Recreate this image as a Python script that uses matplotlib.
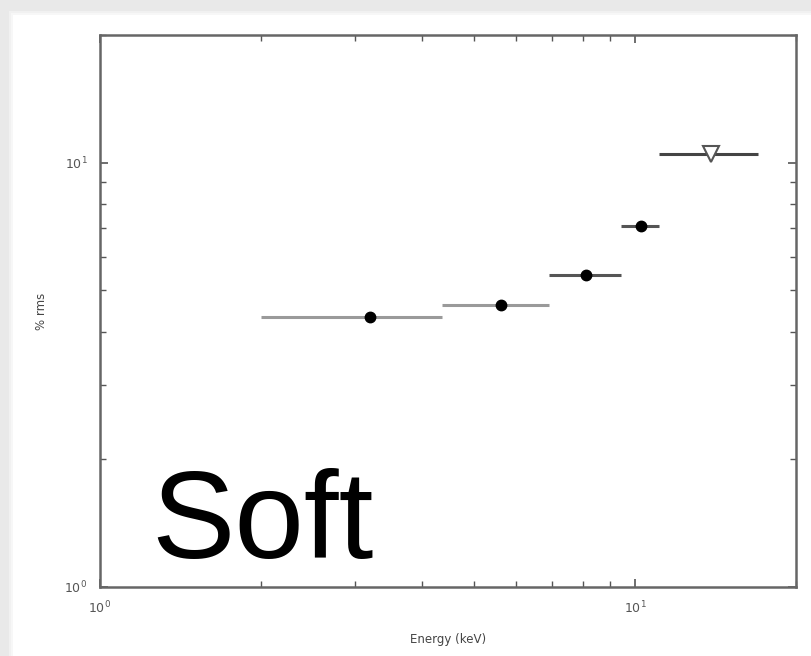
import matplotlib.pyplot as plt
from matplotlib.patches import Rectangle

# energy bins (keV) and fractional rms (%)
energy = [3.19, 5.62, 8.1, 10.26]
e_lo = [2.0, 4.35, 6.91, 9.42]
e_hi = [4.35, 6.91, 9.42, 11.09]
rms = [4.32, 4.61, 5.45, 7.11]
bar_colors = ['#9a9a9a', '#9a9a9a', '#555555', '#555555']

# upper limit in the last bin
lim_energy = [13.9]
lim_lo = [11.09]
lim_hi = [17.0]
lim_rms = [10.5]

fig = plt.figure(figsize=(8.12, 6.56), dpi=100)
fig.patch.set_facecolor('#e9e9e9')
# white page with a soft shadow on the left and top
for i, c in enumerate(['#f1f1f1', '#f7f7f7', '#ffffff']):
    fig.add_artist(Rectangle(((9 + 2 * i) / 812, 0), 1, (645 - 2 * i) / 656,
                             transform=fig.transFigure, facecolor=c,
                             edgecolor='none', zorder=0))

ax = fig.add_axes([100 / 812, 1 - 587 / 656, 696 / 812, 552 / 656])
ax.set_xscale('log')
ax.set_yscale('log')
ax.set_xlim(1, 20)
ax.set_ylim(1, 20)

for x, lo, hi, y, c in zip(energy, e_lo, e_hi, rms, bar_colors):
    ax.plot([lo, hi], [y, y], color=c, lw=2.2, solid_capstyle='butt', zorder=2)
    ax.plot(x, y, 'o', color='black', ms=7.5, zorder=3)

for x, lo, hi, y in zip(lim_energy, lim_lo, lim_hi, lim_rms):
    ax.plot([lo, hi], [y, y], color='#444444', lw=2.2, solid_capstyle='butt', zorder=2)
    ax.plot(x, y, 'v', mfc='white', mec='#555555', mew=1.5, ms=11, zorder=3)

for s in ax.spines.values():
    s.set_color('#666666')
    s.set_linewidth(1.8)
ax.tick_params(which='both', direction='in', top=True, right=True,
               colors='#555555', labelsize=9, labelcolor='#555555')
ax.tick_params(which='major', length=6, width=1.2, pad=9)
ax.tick_params(which='minor', length=4, width=1.0, labelbottom=False, labelleft=False)

ax.set_xlabel('Energy (keV)', fontsize=8.5, color='#444444', labelpad=12)
ax.set_ylabel('% rms', fontsize=8.5, color='#444444', labelpad=12)

fig.text(151 / 812, 1 - 558 / 656, 'Soft', fontsize=90, family='Liberation Sans',
         color='black', va='baseline', ha='left')

fig.savefig('out.png', dpi=100)
